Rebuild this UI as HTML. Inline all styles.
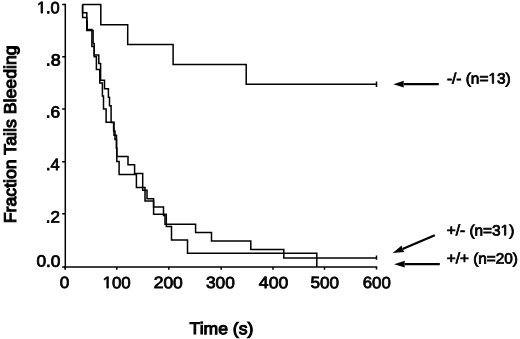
<!DOCTYPE html>
<html><head><meta charset="utf-8"><title>Fraction Tails Bleeding vs Time</title><style>
html,body{margin:0;padding:0;background:#fff;}
body{width:520px;height:339px;overflow:hidden;}
svg{display:block;will-change:transform;filter:blur(0.3px);}
text{font-family:"Liberation Sans",sans-serif;text-rendering:geometricPrecision;fill:#000;}
</style></head><body>
<svg width="520" height="339" viewBox="0 0 520 339">
<rect width="520" height="339" fill="#fff"/>
<g fill="none" stroke="#000" stroke-width="1.5" stroke-linecap="butt" stroke-linejoin="miter">
<path d="M65.3 3.7 V269.6"/><path d="M62.2 4.5 H65.3 M62.2 56.7 H65.3 M62.2 109 H65.3 M62.2 161.7 H65.3 M62.2 213.8 H65.3 M62.2 266.9 H65.3"/><path d="M64.6 266.9 H377.2"/><path d="M65.3 266.9 V269.8 M116.8 266.9 V269.8 M168.8 266.9 V269.8 M221.2 266.9 V269.8 M273 266.9 V269.8 M324.5 266.9 V269.8 M376.5 266.9 V269.6"/><path d="M82.6 4.4 H100.8 V24.8 H127.7 V44.5 H173.1 V64.6 H246.2 V84.3 H377.2 M376.5 81.6 V87"/><path d="M82.6 4.4 V12.7 H86.8 V21.2 H87.2 V29.6 H91.9 V38.1 V46.5 H94.2 V55 H98.8 V63.4 H100.6 V71.9 V80.3 H104.5 V88.8 H108.4 V97.2 H109.5 V105.7 H111.1 V114.1 V122.6 H113.6 V131 H115 V139.5 H116.5 V147.9 H116.8 V156.6 H128 V164.8 H134.6 V173.5 H142.7 V190.2 H147 V198.8 H153.6 V207.1 H163.5 V215.5 H165 V224.2 H195.6 V232.5 H211.5 V241 H250.8 V249.5 H283.8 V258 H377.2 M376.5 255.4 V259.8"/><path d="M82.6 4.4 V17.4 H86.8 V30.5 H93.1 V43.6 H94.2 V56.7 H96.4 V69.5 H99.8 V82.9 H102.4 V96 H103.5 V109.1 H106.1 V122.3 H114 V135.2 H116.5 V148.3 H116.8 V161.6 H119.1 V174.6 H136.4 V187.6 H145 V200.9 H153.6 V214.2 H166.3 V226.5 H171.5 V240 H187.5 V253.3 H316.8 V266.9"/>
</g>
<g fill="none" stroke="#000" stroke-linecap="butt">
<line x1="403.37" y1="84.20" x2="438.80" y2="84.20" stroke-width="2.3"/><path d="M393.20 84.20L403.90 87.60L403.37 84.20L403.90 80.80Z" fill="#000" stroke="none"/><line x1="402.49" y1="248.94" x2="434.80" y2="235.20" stroke-width="2.3"/><path d="M392.70 253.10L404.38 251.94L402.49 248.94L401.64 245.50Z" fill="#000" stroke="none"/><line x1="404.36" y1="264.20" x2="439.80" y2="264.20" stroke-width="2.3"/><path d="M394.10 264.20L404.90 267.60L404.36 264.20L404.90 260.80Z" fill="#000" stroke="none"/>
</g>
<g fill="#000">
<text x="36.95" y="13.10" transform="rotate(0.2 36.95 13.10)" font-size="16.37" style="font-weight:normal;stroke:#000;stroke-width:0.8px;" textLength="22.79" lengthAdjust="spacingAndGlyphs"> .0</text><path transform="translate(36.95,13.10) scale(0.00800,-0.00799)" d="M515 0L515 1237L197 1010L197 1180L530 1409L696 1409L696 0Z" stroke="#000" stroke-width="100.1"/><text x="45.77" y="65.40" transform="rotate(0.2 45.77 65.40)" font-size="16.37" style="font-weight:normal;stroke:#000;stroke-width:0.8px;" textLength="14.89" lengthAdjust="spacingAndGlyphs">.8</text><text x="45.82" y="117.60" transform="rotate(0.2 45.82 117.60)" font-size="16.37" style="font-weight:normal;stroke:#000;stroke-width:0.8px;" textLength="14.44" lengthAdjust="spacingAndGlyphs">.6</text><text x="45.91" y="170.10" transform="rotate(0.2 45.91 170.10)" font-size="16.37" style="font-weight:normal;stroke:#000;stroke-width:0.8px;" textLength="13.67" lengthAdjust="spacingAndGlyphs">.4</text><text x="45.86" y="222.50" transform="rotate(0.2 45.86 222.50)" font-size="16.37" style="font-weight:normal;stroke:#000;stroke-width:0.8px;" textLength="14.08" lengthAdjust="spacingAndGlyphs">.2</text><text x="36.43" y="266.60" transform="rotate(0.2 36.43 266.60)" font-size="16.37" style="font-weight:normal;stroke:#000;stroke-width:0.8px;" textLength="24.05" lengthAdjust="spacingAndGlyphs">0.0</text><text x="59.73" y="288.10" transform="rotate(0.2 59.73 288.10)" font-size="16.37" style="font-weight:normal;stroke:#000;stroke-width:0.8px;" textLength="9.54" lengthAdjust="spacingAndGlyphs">0</text><text x="102.62" y="288.10" transform="rotate(0.2 102.62 288.10)" font-size="16.37" style="font-weight:normal;stroke:#000;stroke-width:0.8px;" textLength="28.15" lengthAdjust="spacingAndGlyphs"> 00</text><path transform="translate(102.62,288.10) scale(0.00824,-0.00799)" d="M515 0L515 1237L197 1010L197 1180L530 1409L696 1409L696 0Z" stroke="#000" stroke-width="100.1"/><text x="153.73" y="288.10" transform="rotate(0.2 153.73 288.10)" font-size="16.37" style="font-weight:normal;stroke:#000;stroke-width:0.8px;" textLength="29.06" lengthAdjust="spacingAndGlyphs">200</text><text x="205.94" y="288.10" transform="rotate(0.2 205.94 288.10)" font-size="16.37" style="font-weight:normal;stroke:#000;stroke-width:0.8px;" textLength="28.84" lengthAdjust="spacingAndGlyphs">300</text><text x="258.89" y="288.10" transform="rotate(0.2 258.89 288.10)" font-size="16.37" style="font-weight:normal;stroke:#000;stroke-width:0.8px;" textLength="29.40" lengthAdjust="spacingAndGlyphs">400</text><text x="310.52" y="288.10" transform="rotate(0.2 310.52 288.10)" font-size="16.37" style="font-weight:normal;stroke:#000;stroke-width:0.8px;" textLength="28.56" lengthAdjust="spacingAndGlyphs">500</text><text x="362.74" y="288.10" transform="rotate(0.2 362.74 288.10)" font-size="16.37" style="font-weight:normal;stroke:#000;stroke-width:0.8px;" textLength="28.02" lengthAdjust="spacingAndGlyphs">600</text><text x="446.92" y="83.40" transform="rotate(0.2 446.92 83.40)" font-size="14.87" style="font-weight:normal;stroke:#000;stroke-width:0.8px;" textLength="63.73" lengthAdjust="spacingAndGlyphs">-/- (n= 3)</text><path transform="translate(488.41,83.40) scale(0.00752,-0.00726)" d="M515 0L515 1237L197 1010L197 1180L530 1409L696 1409L696 0Z" stroke="#000" stroke-width="110.2"/><text x="446.85" y="235.30" transform="rotate(0.2 446.85 235.30)" font-size="14.87" style="font-weight:normal;stroke:#000;stroke-width:0.8px;" textLength="67.41" lengthAdjust="spacingAndGlyphs">+/- (n=3 )</text><path transform="translate(500.60,235.30) scale(0.00750,-0.00726)" d="M515 0L515 1237L197 1010L197 1180L530 1409L696 1409L696 0Z" stroke="#000" stroke-width="110.2"/><text x="446.85" y="263.30" transform="rotate(0.2 446.85 263.30)" font-size="14.87" style="font-weight:normal;stroke:#000;stroke-width:0.8px;" textLength="71.00" lengthAdjust="spacingAndGlyphs">+/+ (n=20)</text><text x="189.64" y="334.08" transform="rotate(0.2 189.64 334.08)" font-size="16.717" style="font-weight:normal;stroke:#000;stroke-width:1.05px;" textLength="63.65" lengthAdjust="spacingAndGlyphs">Time (s)</text><text transform="translate(15.87,223.31) rotate(-90)" x="0" y="0" font-size="17.117" style="font-weight:normal;stroke:#000;stroke-width:1.05px;" textLength="177.97" lengthAdjust="spacingAndGlyphs">Fraction Tails Bleeding</text>
</g>
</svg>
</body></html>
